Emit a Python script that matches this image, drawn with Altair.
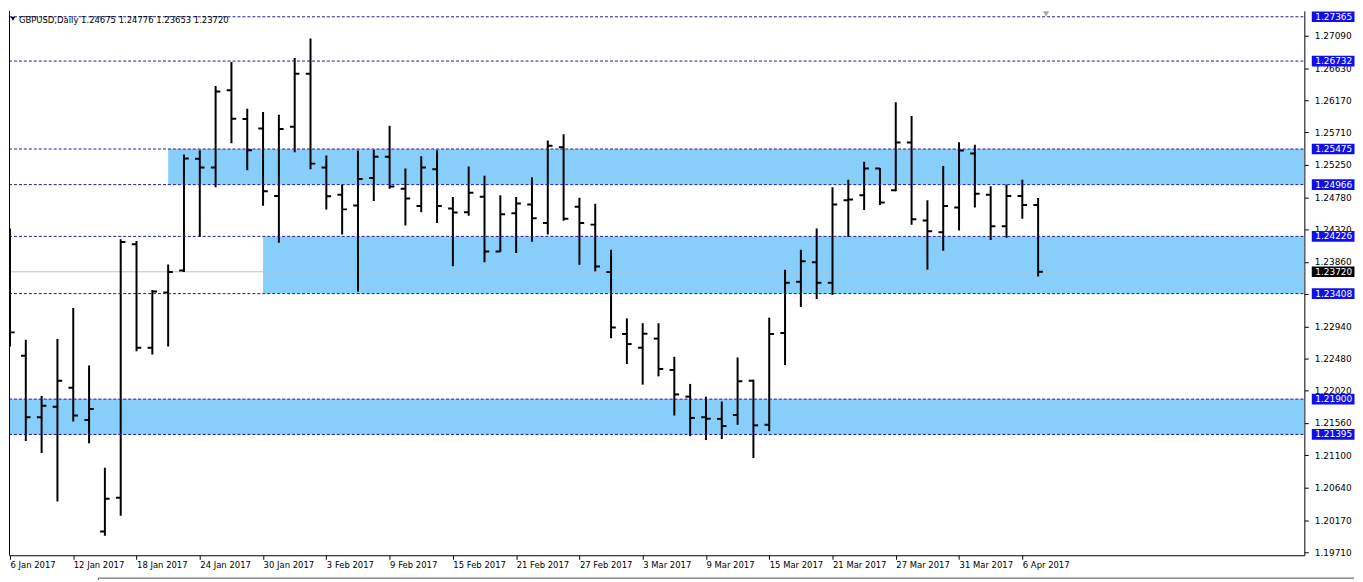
import altair as alt
import pandas as pd

TITLE = "GBPUSD,Daily  1.24675 1.24776 1.23653 1.23720"

DATE_LABELS = ["6 Jan 2017", "12 Jan 2017", "18 Jan 2017", "24 Jan 2017", "30 Jan 2017",
               "3 Feb 2017", "9 Feb 2017", "15 Feb 2017", "21 Feb 2017", "27 Feb 2017",
               "3 Mar 2017", "9 Mar 2017", "15 Mar 2017", "21 Mar 2017", "27 Mar 2017",
               "31 Mar 2017", "6 Apr 2017"]
LABEL_EVERY = 4

OPEN = [1.24146, 1.22519, 1.21641, 1.21791, 1.22061, 1.21603, 1.20008, 1.20489, 1.24114, 1.22635,
        1.23423, 1.23740, 1.25336, 1.25210, 1.26315, 1.25905, 1.25769, 1.24804, 1.25793, 1.26549,
        1.25210, 1.24822, 1.24668, 1.25060, 1.25364, 1.24906, 1.24660, 1.25186, 1.24626, 1.24570,
        1.24794, 1.24010, 1.24556, 1.24682, 1.24416, 1.25499, 1.24650, 1.24394, 1.23716, 1.22831,
        1.22635, 1.22765, 1.22317, 1.21935, 1.21641, 1.21617, 1.21673, 1.22163, 1.21533, 1.22845,
        1.23577, 1.23856, 1.23563, 1.24744, 1.24814, 1.25196, 1.24884, 1.25569, 1.24454, 1.24286,
        1.24640, 1.25410, 1.24822, 1.24370, 1.24804, 1.24675]
HIGH = [1.24338, 1.22747, 1.21945, 1.22761, 1.23204, 1.22379, 1.20918, 1.24184, 1.24160, 1.23460,
        1.23824, 1.25396, 1.25457, 1.26375, 1.26717, 1.26049, 1.26003, 1.25965, 1.26777, 1.27053,
        1.25382, 1.24967, 1.25452, 1.25466, 1.25807, 1.25196, 1.25373, 1.25457, 1.24790, 1.25224,
        1.25094, 1.24814, 1.24790, 1.25070, 1.25597, 1.25685, 1.24780, 1.24692, 1.24034, 1.23055,
        1.22985, 1.22985, 1.22505, 1.22117, 1.21935, 1.21865, 1.22495, 1.22177, 1.23064, 1.23750,
        1.24034, 1.24338, 1.24930, 1.25037, 1.25294, 1.25203, 1.26143, 1.25947, 1.24744, 1.25233,
        1.25573, 1.25536, 1.24944, 1.24967, 1.25037, 1.24776]
LOW = [1.22653, 1.21301, 1.21128, 1.20438, 1.21581, 1.21268, 1.19948, 1.20232, 1.22583, 1.22537,
       1.22653, 1.23716, 1.24216, 1.24930, 1.25559, 1.25172, 1.24664, 1.24136, 1.25429, 1.25186,
       1.24612, 1.24254, 1.23437, 1.24730, 1.24906, 1.24380, 1.24570, 1.24416, 1.23800, 1.24520,
       1.23856, 1.24006, 1.23988, 1.24150, 1.24254, 1.24450, 1.23820, 1.23726, 1.22770, 1.22401,
       1.22107, 1.22225, 1.21665, 1.21371, 1.21315, 1.21329, 1.21533, 1.21058, 1.21441, 1.22387,
       1.23216, 1.23330, 1.23390, 1.24216, 1.24604, 1.24674, 1.24870, 1.24394, 1.23750, 1.24020,
       1.24310, 1.24640, 1.24174, 1.24206, 1.24478, 1.23653]
CLOSE = [1.22854, 1.21641, 1.21805, 1.22163, 1.21665, 1.21757, 1.20475, 1.24146, 1.22635, 1.23437,
         1.23716, 1.25340, 1.25210, 1.26297, 1.25909, 1.25457, 1.24870, 1.25760, 1.26549, 1.25266,
         1.24800, 1.24612, 1.25046, 1.25364, 1.24940, 1.24766, 1.25210, 1.24660, 1.24566, 1.24850,
         1.24010, 1.24542, 1.24696, 1.24486, 1.25522, 1.24478, 1.24416, 1.23796, 1.22924, 1.22687,
         1.22835, 1.22331, 1.21967, 1.21631, 1.21620, 1.21515, 1.22155, 1.21525, 1.22831, 1.23563,
         1.23870, 1.23563, 1.24682, 1.24752, 1.25196, 1.24710, 1.25569, 1.24472, 1.24300, 1.24660,
         1.25452, 1.24836, 1.24370, 1.24804, 1.24674, 1.23720]

ZONE_START = [10, 16, -3]
ZONE_TOP = [1.25475, 1.24226, 1.21900]
ZONE_BOTTOM = [1.24966, 1.23408, 1.21395]

LEVELS = [1.27365, 1.26732, 1.25475, 1.24966, 1.24226, 1.23408, 1.21900, 1.21395]
LAST_PRICE = 1.23720

Y_TICKS = [1.27090, 1.26630, 1.26170, 1.25710, 1.25250, 1.24780, 1.24320, 1.23860, 1.23400,
           1.22940, 1.22480, 1.22020, 1.21560, 1.21100, 1.20640, 1.20170, 1.19710]

# ---------------------------------------------------------------- layout
W = 1304
H = 548
FONT = "DejaVu Sans"
LINE_BLUE = "#1a1aa0"
BOX_BLUE = "#1010e6"
ZONE_FILL = "#87cefa"

bars = pd.DataFrame({"i": list(range(len(OPEN))), "o": OPEN, "h": HIGH, "l": LOW, "c": CLOSE})
zones = pd.DataFrame({"s": ZONE_START, "t": ZONE_TOP, "b": ZONE_BOTTOM})
levels = pd.DataFrame({"v": LEVELS})
last = pd.DataFrame({"v": [LAST_PRICE]})
tick_idx = [k * LABEL_EVERY for k in range(len(DATE_LABELS))]

label_array = "[" + ",".join("'" + s + "'" for s in DATE_LABELS) + "]"

xscale = alt.Scale(domain=[-0.0625, 81.83], nice=False, zero=False)
yscale = alt.Scale(domain=[1.19668, 1.27449], nice=False, zero=False)

xaxis = alt.Axis(values=tick_idx, labelExpr=f"{label_array}[round(datum.value / {LABEL_EVERY})]",
                 title=None, grid=False, labelAlign="left", labelFlush=False, labelOverlap=False,
                 tickSize=4, labelPadding=1, domainColor="black", tickColor="black",
                 labelColor="black", labelFont=FONT, labelFontSize=8.5, labelBaseline="top")
yaxis = alt.Axis(values=Y_TICKS, format=".5f", orient="right", title=None, grid=False,
                 labelAlign="left", labelBaseline="middle", labelFlush=False, labelOverlap=False,
                 tickSize=4, labelPadding=6, domainColor="black", tickColor="black",
                 labelColor="black", labelFont=FONT, labelFontSize=9)


def X(f):
    return alt.X(f, type="quantitative", scale=xscale, axis=xaxis)


def Y(f):
    return alt.Y(f, type="quantitative", scale=yscale, axis=yaxis)


zone_layer = alt.Chart(zones).mark_rect(color=ZONE_FILL, opacity=1, clip=True).encode(
    x=X("s"), x2=alt.value(W), y=Y("t"), y2=alt.Y2("b"))

last_line = alt.Chart(last).mark_rule(color="#c0c0c0", strokeWidth=1).encode(
    x=alt.value(0), x2=alt.value(W), y=Y("v"))

base = alt.Chart(bars).transform_calculate(xo="datum.i - 0.3", xc="datum.i + 0.3")
hl = base.mark_rule(color="black", strokeWidth=2, clip=True).encode(x=X("i"), y=Y("h"), y2=alt.Y2("l"))
op = base.mark_rule(color="black", strokeWidth=2, clip=True).encode(x=X("xo"), x2=alt.X2("i"), y=Y("o"))
cl = base.mark_rule(color="black", strokeWidth=2, clip=True).encode(x=X("i"), x2=alt.X2("xc"), y=Y("c"))

dashed = alt.Chart(levels).mark_rule(color=LINE_BLUE, strokeWidth=1, strokeDash=[3, 2]).encode(
    x=alt.value(0), x2=alt.value(W), y=Y("v"))

BOX_PATH = "M-1,-0.25L1,-0.25L1,0.25L-1,0.25Z"
lvl_box = alt.Chart(levels).mark_point(shape=BOX_PATH, filled=True, size=43 * 43, opacity=1,
                                       color=BOX_BLUE, strokeWidth=0).encode(
    x=alt.value(W + 29), y=Y("v"))
lvl_txt = alt.Chart(levels).mark_text(align="left", baseline="middle", color="white",
                                      font=FONT, fontSize=9).encode(
    x=alt.value(W + 11), y=Y("v"), text=alt.Text("v:Q", format=".5f"))
last_box = alt.Chart(last).mark_point(shape=BOX_PATH, filled=True, size=43 * 43, opacity=1,
                                      color="black", strokeWidth=0).encode(
    x=alt.value(W + 29), y=Y("v"))
last_txt = alt.Chart(last).mark_text(align="left", baseline="middle", color="white",
                                     font=FONT, fontSize=9).encode(
    x=alt.value(W + 11), y=Y("v"), text=alt.Text("v:Q", format=".5f"))

title_df = pd.DataFrame({"t": [TITLE]})
title_txt = alt.Chart(title_df).mark_text(align="left", baseline="middle", color="black",
                                          font=FONT, fontSize=8.5).encode(
    x=alt.value(10), y=alt.value(9), text="t:N")
title_icon = alt.Chart(title_df).mark_point(shape="triangle-down", filled=True, size=22,
                                            color="black", opacity=1).encode(
    x=alt.value(4), y=alt.value(8))
shift_icon = alt.Chart(title_df).mark_point(shape="triangle-down", filled=True, size=40,
                                            color="#a8a8a8", opacity=1).encode(
    x=alt.value(1044), y=alt.value(3))

left_border = alt.Chart(title_df).mark_rule(color="black", strokeWidth=1).encode(
    x=alt.value(0.5), y=alt.value(0), y2=alt.value(H))
window_line = alt.Chart(title_df).mark_rule(color="#505050", strokeWidth=1).encode(
    x=alt.value(90), x2=alt.value(W + 50), y=alt.value(571))
tab_line = alt.Chart(title_df).mark_rule(color="#505050", strokeWidth=1).encode(
    x=alt.value(90), y=alt.value(571), y2=alt.value(573))

chart = alt.layer(
    zone_layer, last_line, hl, op, cl, dashed,
    lvl_box, lvl_txt, last_box, last_txt,
    title_icon, title_txt, shift_icon, left_border, window_line, tab_line
).properties(width=W, height=H, padding=0, background="white").configure_view(stroke=None)

chart.save("out.html", embed_options={"renderer": "svg", "actions": False})
